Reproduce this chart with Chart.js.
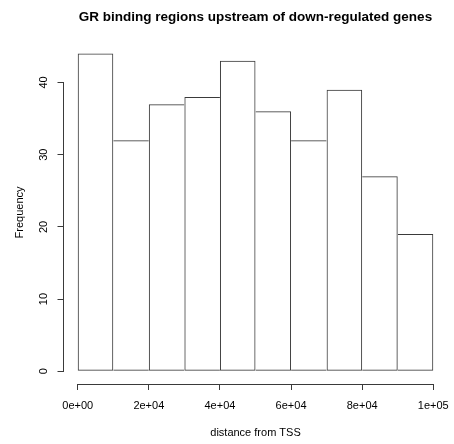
<!DOCTYPE html>
<html>
<head>
<meta charset="utf-8">
<title>GR binding regions upstream of down-regulated genes</title>
<script src="https://cdn.jsdelivr.net/npm/chart.js@4/dist/chart.umd.min.js"></script>
<style>
  html, body { margin: 0; padding: 0; background: #ffffff; }
  #wrap { width: 454px; height: 444px; }
</style>
</head>
<body>
<div id="wrap"><canvas id="hist" width="454" height="444"></canvas></div>
<script>
// Histogram bins (left edges) and counts
const binStarts = [0, 10000, 20000, 30000, 40000, 50000, 60000, 70000, 80000, 90000];
const binWidth = 10000;
const frequencies = [44, 32, 37, 38, 43, 36, 32, 39, 27, 19];

// Axis ticks and their labels
const xTickValues = [0, 20000, 40000, 60000, 80000, 100000];
const xTickLabels = ['0e+00', '2e+04', '4e+04', '6e+04', '8e+04', '1e+05'];
const yTickValues = [0, 10, 20, 30, 40];
const yTickLabels = ['0', '10', '20', '30', '40'];

const chartTitle = 'GR binding regions upstream of down-regulated genes';
const xTitle = 'distance from TSS';
const yTitle = 'Frequency';

// R-style axis ranges: data range extended by 4% on each side
const xLo = binStarts[0];
const xHi = binStarts[binStarts.length - 1] + binWidth;
const xPad = 0.04 * (xHi - xLo);
const yHi = Math.max(...frequencies);
const yPad = 0.04 * yHi;

const FONT = "'Liberation Sans', Arial, Helvetica, sans-serif";
const INK = '#000000';
const LINE = '#3a3a3a';

const points = binStarts.map((s, i) => ({ x: s + binWidth / 2, y: frequencies[i] }));

// A shared edge between two bins is drawn once, by the taller of the two
function edgeWidths(ctx) {
  const i = ctx.dataIndex;
  const n = frequencies.length;
  const cur = frequencies[i];
  const left = (i === 0 || frequencies[i - 1] <= cur) ? 1 : 0;
  const right = (i === n - 1 || frequencies[i + 1] < cur) ? 1 : 0;
  return { top: 1, bottom: 1, left, right };
}

// Axis lines that run only from the first to the last tick
const axisLines = {
  id: 'axisLines',
  afterDraw(chart) {
    const { ctx, chartArea, scales } = chart;
    const xs = scales.x, ys = scales.y;
    const al = v => Math.round(v - 0.5) + 0.5;
    ctx.save();
    ctx.strokeStyle = LINE;
    ctx.lineWidth = 1;
    ctx.beginPath();
    const ax = Math.floor(chartArea.left) + 0.5;
    ctx.moveTo(ax, al(ys.getPixelForValue(yTickValues[0])));
    ctx.lineTo(ax, al(ys.getPixelForValue(yTickValues[yTickValues.length - 1])));
    const ay = Math.floor(chartArea.bottom) + 0.5;
    ctx.moveTo(al(xs.getPixelForValue(xTickValues[0])), ay);
    ctx.lineTo(al(xs.getPixelForValue(xTickValues[xTickValues.length - 1])), ay);
    ctx.stroke();
    ctx.restore();
  }
};

new Chart(document.getElementById('hist'), {
  type: 'bar',
  data: {
    datasets: [{
      data: points,
      backgroundColor: 'rgba(255,255,255,0)',
      borderColor: LINE,
      borderWidth: edgeWidths,
      borderSkipped: false,
      inflateAmount: 0,
      barPercentage: 1,
      categoryPercentage: 1,
      grouped: false
    }]
  },
  options: {
    responsive: false,
    maintainAspectRatio: false,
    devicePixelRatio: 1,
    animation: false,
    events: [],
    layout: { padding: { left: 0, right: 6.5, top: 0, bottom: 0 } },
    plugins: {
      legend: { display: false },
      tooltip: { enabled: false },
      title: {
        display: true,
        text: chartTitle,
        fullSize: false,
        color: INK,
        font: { family: FONT, size: 13.5, weight: 'bold', lineHeight: 1.2 },
        padding: { top: 9.2, bottom: 15.5 }
      }
    },
    scales: {
      x: {
        type: 'linear',
        position: 'bottom',
        offset: false,
        min: xLo - xPad,
        max: xHi + xPad,
        afterBuildTicks: s => { s.ticks = xTickValues.map(v => ({ value: v })); },
        afterFit: s => { s.height = 60; s.paddingLeft = 0; s.paddingRight = 0; },
        grid: { offset: false, drawOnChartArea: false, drawTicks: true, tickLength: 6, color: LINE, lineWidth: 1 },
        border: { display: false },
        ticks: {
          autoSkip: false, maxRotation: 0, minRotation: 0, padding: 9,
          color: INK, font: { family: FONT, size: 11, lineHeight: 1.2 },
          callback: (v, i) => xTickLabels[i]
        },
        title: {
          display: true, text: xTitle, color: INK,
          font: { family: FONT, size: 11, lineHeight: 1.2 },
          padding: { top: 0, bottom: 4.6 }
        }
      },
      y: {
        type: 'linear',
        position: 'left',
        min: -yPad,
        max: yHi + yPad,
        afterBuildTicks: s => { s.ticks = yTickValues.map(v => ({ value: v })); },
        afterFit: s => { s.width = 63.5; s.paddingTop = 0; s.paddingBottom = 0; },
        grid: { drawOnChartArea: false, drawTicks: true, tickLength: 6, color: LINE, lineWidth: 1 },
        border: { display: false },
        ticks: {
          autoSkip: false, minRotation: 90, maxRotation: 90, crossAlign: 'center', padding: 7,
          color: INK, font: { family: FONT, size: 11, lineHeight: 1.2 },
          callback: (v, i) => yTickLabels[i]
        },
        title: {
          display: true, text: yTitle, color: INK,
          font: { family: FONT, size: 11, lineHeight: 1.2 },
          padding: { top: 13.4, bottom: 0 }
        }
      }
    }
  },
  plugins: [axisLines]
});
</script>
</body>
</html>
